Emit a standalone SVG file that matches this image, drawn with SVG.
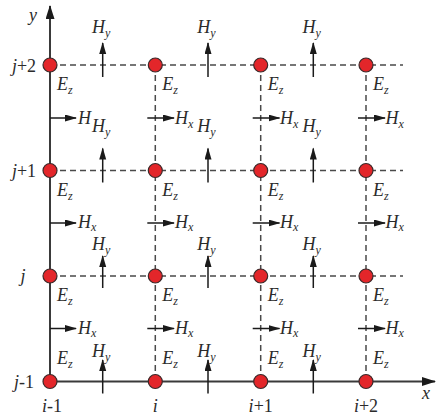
<svg xmlns="http://www.w3.org/2000/svg" width="438" height="417" viewBox="0 0 438 417" font-family="'Liberation Serif','Times New Roman',serif">
<style>
text{font-family:'Liberation Serif','Times New Roman',serif;font-size:18px;fill:#2b2b2b}
.i{font-style:italic}
.s{font-size:12px;font-style:italic}
.axis{stroke:#3a3a3a;stroke-width:2;fill:none}
.dash{stroke:#4a4a4a;stroke-width:1.5;stroke-dasharray:6 4;fill:none}
.arr{stroke:#1a1a1a;stroke-width:1.5;fill:none;marker-end:url(#ah)}
.ez{fill:#e3262a;stroke:#3a2a2a;stroke-width:1.2}
</style>
<defs>
<marker id="ah" markerUnits="userSpaceOnUse" markerWidth="13" markerHeight="8" refX="11" refY="3.5" orient="auto">
<path d="M0,0 L12,3.5 L0,7 z" fill="#1a1a1a"/>
</marker>
<marker id="axh" markerUnits="userSpaceOnUse" markerWidth="16" markerHeight="10" refX="13" refY="4.5" orient="auto">
<path d="M0,0 L14,4.5 L0,9 z" fill="#1a1a1a"/>
</marker>
</defs>
<rect width="438" height="417" fill="#fff"/>
<g id="connectors">
<path class="dash" d="M50,65H403M50,170.5H403M50,276H403"/>
<path class="dash" d="M155.3,65V381.5M260.7,65V381.5M366,65V381.5"/>
<path class="axis" d="M50,381.5V6" marker-end="url(#axh)"/>
<path class="axis" d="M50,381.5H435" marker-end="url(#axh)"/>
</g>
<g id="hy-arrows">
<path class="arr" d="M102.7,77V43"/><path class="arr" d="M208,77V43"/><path class="arr" d="M313.3,77V43"/>
<path class="arr" d="M102.7,182.5V148.5"/><path class="arr" d="M208,182.5V148.5"/><path class="arr" d="M313.3,182.5V148.5"/>
<path class="arr" d="M102.7,288V256"/><path class="arr" d="M208,288V256"/><path class="arr" d="M313.3,288V256"/>
<path class="arr" d="M102.7,393.5V360"/><path class="arr" d="M208,393.5V360"/><path class="arr" d="M313.3,393.5V360"/>
</g>
<g id="hx-arrows">
<path class="arr" d="M50,118H76"/><path class="arr" d="M147.3,118H174"/><path class="arr" d="M252.7,118H279.5"/><path class="arr" d="M358,118H385"/>
<path class="arr" d="M50,223H76"/><path class="arr" d="M147.3,223H174"/><path class="arr" d="M252.7,223H279.5"/><path class="arr" d="M358,223H385"/>
<path class="arr" d="M50,328.5H76"/><path class="arr" d="M147.3,328.5H174"/><path class="arr" d="M252.7,328.5H279.5"/><path class="arr" d="M358,328.5H385"/>
</g>
<g id="ez-nodes">
<g id="ez-i-1-j+2"><circle class="ez" cx="50" cy="65" r="7"/></g>
<g id="ez-i-j+2"><circle class="ez" cx="155.3" cy="65" r="7"/></g>
<g id="ez-i+1-j+2"><circle class="ez" cx="260.7" cy="65" r="7"/></g>
<g id="ez-i+2-j+2"><circle class="ez" cx="366" cy="65" r="7"/></g>
<g id="ez-i-1-j+1"><circle class="ez" cx="50" cy="170.5" r="7"/></g>
<g id="ez-i-j+1"><circle class="ez" cx="155.3" cy="170.5" r="7"/></g>
<g id="ez-i+1-j+1"><circle class="ez" cx="260.7" cy="170.5" r="7"/></g>
<g id="ez-i+2-j+1"><circle class="ez" cx="366" cy="170.5" r="7"/></g>
<g id="ez-i-1-j"><circle class="ez" cx="50" cy="276" r="7"/></g>
<g id="ez-i-j"><circle class="ez" cx="155.3" cy="276" r="7"/></g>
<g id="ez-i+1-j"><circle class="ez" cx="260.7" cy="276" r="7"/></g>
<g id="ez-i+2-j"><circle class="ez" cx="366" cy="276" r="7"/></g>
<g id="ez-i-1-j-1"><circle class="ez" cx="50" cy="381.5" r="7"/></g>
<g id="ez-i-j-1"><circle class="ez" cx="155.3" cy="381.5" r="7"/></g>
<g id="ez-i+1-j-1"><circle class="ez" cx="260.7" cy="381.5" r="7"/></g>
<g id="ez-i+2-j-1"><circle class="ez" cx="366" cy="381.5" r="7"/></g>
</g>
<g id="ez-labels">
<text x="57" y="90"><tspan class="i">E</tspan><tspan class="s" dy="4">z</tspan></text>
<text x="162.3" y="90"><tspan class="i">E</tspan><tspan class="s" dy="4">z</tspan></text>
<text x="267.7" y="90"><tspan class="i">E</tspan><tspan class="s" dy="4">z</tspan></text>
<text x="373" y="90"><tspan class="i">E</tspan><tspan class="s" dy="4">z</tspan></text>
<text x="57" y="195.5"><tspan class="i">E</tspan><tspan class="s" dy="4">z</tspan></text>
<text x="162.3" y="195.5"><tspan class="i">E</tspan><tspan class="s" dy="4">z</tspan></text>
<text x="267.7" y="195.5"><tspan class="i">E</tspan><tspan class="s" dy="4">z</tspan></text>
<text x="373" y="195.5"><tspan class="i">E</tspan><tspan class="s" dy="4">z</tspan></text>
<text x="57" y="301"><tspan class="i">E</tspan><tspan class="s" dy="4">z</tspan></text>
<text x="162.3" y="301"><tspan class="i">E</tspan><tspan class="s" dy="4">z</tspan></text>
<text x="267.7" y="301"><tspan class="i">E</tspan><tspan class="s" dy="4">z</tspan></text>
<text x="373" y="301"><tspan class="i">E</tspan><tspan class="s" dy="4">z</tspan></text>
<text x="57" y="364"><tspan class="i">E</tspan><tspan class="s" dy="4">z</tspan></text>
<text x="162.3" y="364"><tspan class="i">E</tspan><tspan class="s" dy="4">z</tspan></text>
<text x="267.7" y="364"><tspan class="i">E</tspan><tspan class="s" dy="4">z</tspan></text>
<text x="373" y="364"><tspan class="i">E</tspan><tspan class="s" dy="4">z</tspan></text>
</g>
<g id="hx-labels">
<text x="78" y="124"><tspan class="i">H</tspan></text>
<text x="175" y="124"><tspan class="i">H</tspan><tspan class="s" dy="4">x</tspan></text>
<text x="280" y="124"><tspan class="i">H</tspan><tspan class="s" dy="4">x</tspan></text>
<text x="385.5" y="124"><tspan class="i">H</tspan><tspan class="s" dy="4">x</tspan></text>
<text x="78" y="228"><tspan class="i">H</tspan><tspan class="s" dy="3">x</tspan></text>
<text x="175" y="228"><tspan class="i">H</tspan><tspan class="s" dy="3">x</tspan></text>
<text x="280" y="228"><tspan class="i">H</tspan><tspan class="s" dy="3">x</tspan></text>
<text x="385.5" y="228"><tspan class="i">H</tspan><tspan class="s" dy="3">x</tspan></text>
<text x="78" y="334"><tspan class="i">H</tspan><tspan class="s" dy="3">x</tspan></text>
<text x="175" y="334"><tspan class="i">H</tspan><tspan class="s" dy="3">x</tspan></text>
<text x="280" y="334"><tspan class="i">H</tspan><tspan class="s" dy="3">x</tspan></text>
<text x="385.5" y="334"><tspan class="i">H</tspan><tspan class="s" dy="3">x</tspan></text>
</g>
<g id="hy-labels">
<text x="92" y="33"><tspan class="i">H</tspan><tspan class="s" dy="4">y</tspan></text>
<text x="197.3" y="33"><tspan class="i">H</tspan><tspan class="s" dy="4">y</tspan></text>
<text x="302.6" y="33"><tspan class="i">H</tspan><tspan class="s" dy="4">y</tspan></text>
<text x="92" y="132"><tspan class="i">H</tspan><tspan class="s" dy="4">y</tspan></text>
<text x="197.3" y="132"><tspan class="i">H</tspan><tspan class="s" dy="4">y</tspan></text>
<text x="302.6" y="132"><tspan class="i">H</tspan><tspan class="s" dy="4">y</tspan></text>
<text x="92" y="250"><tspan class="i">H</tspan><tspan class="s" dy="4">y</tspan></text>
<text x="197.3" y="250"><tspan class="i">H</tspan><tspan class="s" dy="4">y</tspan></text>
<text x="302.6" y="250"><tspan class="i">H</tspan><tspan class="s" dy="4">y</tspan></text>
<text x="92" y="357"><tspan class="i">H</tspan><tspan class="s" dy="4">y</tspan></text>
<text x="197.3" y="357"><tspan class="i">H</tspan><tspan class="s" dy="4">y</tspan></text>
<text x="302.6" y="357"><tspan class="i">H</tspan><tspan class="s" dy="4">y</tspan></text>
</g>
<g id="axis-labels" text-anchor="middle">
<text x="24" y="71.5"><tspan class="i">j</tspan>+2</text>
<text x="24" y="176.5"><tspan class="i">j</tspan>+1</text>
<text x="23" y="282" class="i">j</text>
<text x="24" y="387.5"><tspan class="i">j</tspan>-1</text>
<text x="52" y="412"><tspan class="i">i</tspan>-1</text>
<text x="155.3" y="412" class="i">i</text>
<text x="260.7" y="412"><tspan class="i">i</tspan>+1</text>
<text x="366" y="412"><tspan class="i">i</tspan>+2</text>
<text x="426" y="399" class="i">x</text>
<text x="33" y="21" class="i">y</text>
</g>
</svg>
